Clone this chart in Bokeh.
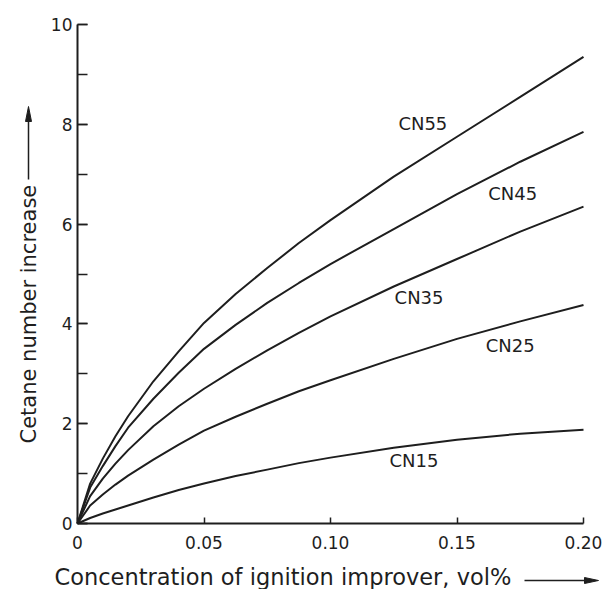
import math
from bokeh.plotting import figure
from bokeh.models import Range1d, SingleIntervalTicker, FixedTicker, CustomJSTickFormatter
from bokeh.core.properties import value
from bokeh.embed import file_html
from bokeh.resources import INLINE

# ---- data ----
conc = [0, 0.005, 0.01, 0.015, 0.02, 0.03, 0.04, 0.05, 0.0625, 0.075, 0.0875, 0.1,
        0.125, 0.15, 0.175, 0.2]
cn55 = [0, 0.80, 1.30, 1.75, 2.15, 2.85, 3.45, 4.02, 4.60, 5.12, 5.62, 6.08, 6.95, 7.75, 8.55, 9.35]
cn45 = [0, 0.72, 1.15, 1.55, 1.92, 2.50, 3.02, 3.50, 3.98, 4.42, 4.82, 5.20, 5.90, 6.60, 7.25, 7.85]
cn35 = [0, 0.55, 0.90, 1.20, 1.47, 1.95, 2.35, 2.70, 3.10, 3.47, 3.82, 4.15, 4.75, 5.30, 5.85, 6.35]
cn25 = [0, 0.36, 0.58, 0.78, 0.96, 1.28, 1.58, 1.86, 2.14, 2.40, 2.65, 2.87, 3.30, 3.70, 4.05, 4.38]
cn15 = [0, 0.11, 0.20, 0.28, 0.36, 0.52, 0.67, 0.80, 0.95, 1.08, 1.21, 1.32, 1.52, 1.68, 1.80, 1.88]

series_names = ["CN55", "CN45", "CN35", "CN25", "CN15"]
series_vals = [cn55, cn45, cn35, cn25, cn15]
label_x = [0.1365, 0.172, 0.135, 0.171, 0.133]
label_y = [8.02, 6.61, 4.53, 3.57, 1.26]

x_ticks = [0, 0.05, 0.10, 0.15, 0.20]
x_title = "Concentration of ignition improver, vol%"
y_title = "Cetane number increase"

FONT = "DejaVu Sans"
INK = "#1e1e1e"

# ---- canvas layout (pixels; Bokeh's page has no body margin) ----
W, H = 602, 589
LEFT, RIGHT, TOP, BOTTOM = 77, 583, 24, 523          # where the axes sit
XMAX, YMAX = 0.2, 10.0
sx = (RIGHT - LEFT) / XMAX
sy = (BOTTOM - TOP) / YMAX


def dx(px):
    return (px - LEFT) / sx


def dy(py):
    return (BOTTOM - py) / sy


p = figure(width=W, height=H, output_backend="svg", toolbar_location=None,
           x_range=Range1d(dx(0), dx(W)), y_range=Range1d(dy(H), dy(0)),
           min_border=0)
p.background_fill_color = "white"
p.border_fill_color = "white"
p.outline_line_color = None
p.grid.visible = False

for ys in series_vals:
    p.line(conc, ys, line_color=INK, line_width=2)

p.text(x=label_x, y=label_y, text=series_names, text_font=value(FONT),
       text_font_size="18px", text_color=INK, text_align="center", text_baseline="middle")

# axes, pinned at the data origin
for ax in (p.xaxis[0], p.yaxis[0]):
    ax.fixed_location = 0
    ax.axis_line_width = 2
    ax.axis_line_color = INK
    ax.major_tick_line_color = INK
    ax.major_tick_line_width = 1.5
    ax.minor_tick_line_color = INK
    ax.minor_tick_line_width = 1.5
    ax.major_tick_out = 0
    ax.minor_tick_out = 0
    ax.major_label_text_font = FONT
    ax.major_label_text_font_size = "17px"
    ax.major_label_text_color = INK

p.xaxis.bounds = (0, XMAX)
p.yaxis.bounds = (0, YMAX)

p.yaxis.ticker = SingleIntervalTicker(interval=2, num_minor_ticks=2)
p.yaxis.major_tick_in = 10
p.yaxis.minor_tick_in = 10
p.yaxis.major_label_standoff = 5

p.xaxis.ticker = FixedTicker(ticks=x_ticks)
p.xaxis.major_tick_in = 6
p.xaxis.minor_tick_in = 0
p.xaxis.major_label_standoff = 12
p.xaxis.formatter = CustomJSTickFormatter(code="return tick == 0 ? '0' : tick.toFixed(2);")

# x-axis title with its arrow
p.text(x=[dx(54)], y=[dy(576)], text=[x_title], text_font=value(FONT), text_font_size="22.5px",
       text_color=INK, text_align="left", text_baseline="middle")
p.line(x=[dx(524), dx(588)], y=[dy(580), dy(580)], line_color=INK, line_width=1.5)
p.patch(x=[dx(598), dx(584), dx(584)], y=[dy(580), dy(577), dy(583)],
        fill_color=INK, line_color=INK, line_width=1)

# y-axis title with its arrow
p.text(x=[dx(28)], y=[dy(443)], text=[y_title], angle=math.pi / 2, text_font=value(FONT),
       text_font_size="21px", text_color=INK, text_align="left", text_baseline="middle")
p.line(x=[dx(28), dx(28)], y=[dy(179), dy(116)], line_color=INK, line_width=1.5)
p.patch(x=[dx(28), dx(25), dx(31)], y=[dy(106), dy(121), dy(121)],
        fill_color=INK, line_color=INK, line_width=1)

open("out.html", "w").write(file_html(p, INLINE))
